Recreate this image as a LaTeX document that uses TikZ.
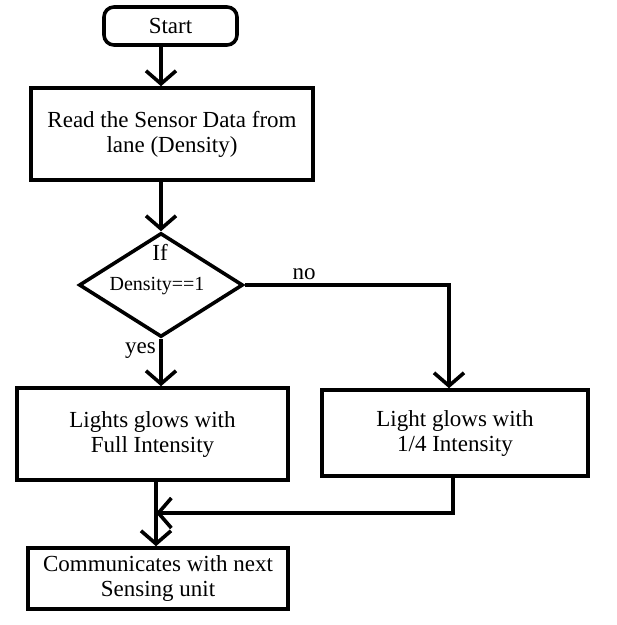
\documentclass[tikz,border=0pt]{standalone}
\usepackage{fontspec}
\setmainfont{Liberation Serif}
\usetikzlibrary{shapes.geometric,arrows.meta}
\tikzset{
  box/.style={draw,line width=3.6pt,align=center,inner sep=0pt},
  arr/.style={line width=3.6pt,-{Straight Barb[length=13pt,width=30pt,line width=3.6pt]}},
  line/.style={line width=3.6pt}
}
\begin{document}
\begin{tikzpicture}[x=1pt,y=-1pt,font=\fontsize{23}{25}\selectfont]
    \useasboundingbox (0,0) rectangle (617,625);
    %% start and read
    \node[box,rounded corners=10pt,minimum width=133pt,minimum height=38pt] (start) at (170.5,26) {Start};
    \node[box,minimum width=282pt,minimum height=92pt] (read) at (172,134) {Read the Sensor Data from\\lane (Density)};
    %% decision
    \node[draw,diamond,line width=3.6pt,inner sep=0pt,minimum width=164pt,minimum height=104pt] (dec) at (161,285) {};
    \node (iflbl) at (160,252) {If};
    \node[font=\fontsize{20}{24}\selectfont] (denlbl) at (157,286) {Density==1};
    %% the two lights
    \node[box,minimum width=271pt,minimum height=92pt] (full) at (152.5,434) {Lights glows with\\Full Intensity};
    \node[box,minimum width=266pt,minimum height=86pt] (quarter) at (455,433) {Light glows with\\1/4 Intensity};
    %% last step
    \node[box,minimum width=260pt,minimum height=61pt] (comm) at (158,578.5) {Communicates with next\\Sensing unit};
    \coordinate (join) at (156,513);
    %% arrows
    \draw[arr] (start.south -| dec) -- (read.north -| dec);
    \draw[arr] (read.south -| dec) -- (dec.north);
    \draw[arr] (dec.south) -- (full.north -| dec) node[pos=0.25,left] (yeslbl) {yes};
    \draw[arr] (dec.east) -| ([xshift=-6pt]quarter.north) node[pos=0.145,above] (nolbl) {no};
    \draw[arr] (full.south -| join) -- (comm.north -| join);
    \draw[arr] ([xshift=-2pt]quarter.south) |- (join);
\end{tikzpicture}
\end{document}
